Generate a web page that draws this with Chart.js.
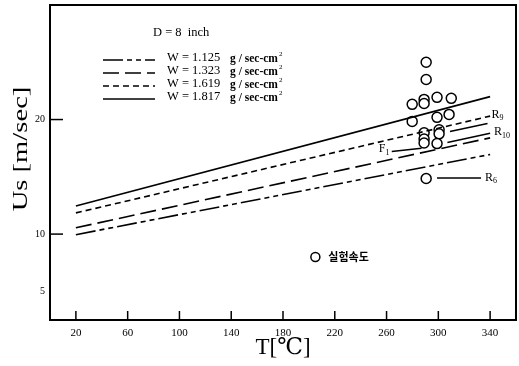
<!DOCTYPE html>
<html>
<head>
<meta charset="utf-8">
<script src="https://cdn.jsdelivr.net/npm/chart.js@4.4.1/dist/chart.umd.min.js"></script>
<style>
  html, body { margin: 0; padding: 0; background: #fff; }
  #wrap { width: 519px; height: 366px; }
</style>
</head>
<body>
<div id="wrap"><canvas id="c"></canvas></div>
<script>
// line end points (T in degC) and fitted Us values
const tEnds = [20, 340];
const us1817 = [12.45, 22.0];
const us1619 = [11.85, 20.3];
const us1323 = [10.55, 18.4];
const us1125 = [9.95, 16.95];

// experimental speeds (circles)
const expT  = [290.6, 290.6, 289, 289, 279.8, 299, 310, 279.8, 299, 308.3, 300.6, 300.6, 289, 289, 289, 299, 290.6];
const expUs = [25.0, 23.5, 21.76, 21.4, 21.33, 21.94, 21.85, 19.84, 20.19, 20.45, 19.1, 18.75, 18.84, 18.3, 17.95, 17.9, 14.85];

const xTicks = [20, 60, 100, 140, 180, 220, 260, 300, 340];
const yTicks = [5, 10, 20];

const legendRows = [
  { label: 'W = 1.125', dash: [20, 4, 5, 4, 5, 4] },
  { label: 'W = 1.323', dash: [16, 6] },
  { label: 'W = 1.619', dash: [6, 4] },
  { label: 'W = 1.817', dash: [] }
];

const SERIF = "'Liberation Serif', 'DejaVu Serif', serif";

function pts(xs, ys) {
  return xs.map((x, i) => ({ x: x, y: ys[i] }));
}

function lineSet(label, ys, dash) {
  return {
    label: label,
    data: pts(tEnds, ys),
    showLine: true,
    borderColor: '#000',
    borderWidth: 1.6,
    borderDash: dash,
    pointRadius: 0,
    fill: false
  };
}

// inside tick marks, frame, legend and annotations
const decor = {
  id: 'decor',
  afterDraw(chart) {
    const ctx = chart.ctx;
    const a = chart.chartArea;
    const xs = chart.scales.x, ys = chart.scales.y;
    ctx.save();
    ctx.strokeStyle = '#000';
    ctx.fillStyle = '#000';

    // frame
    ctx.lineWidth = 2;
    ctx.strokeRect(a.left, a.top, a.right - a.left, a.bottom - a.top);

    // x ticks pointing inward
    ctx.lineWidth = 1.5;
    xTicks.forEach(v => {
      const px = xs.getPixelForValue(v);
      ctx.beginPath();
      ctx.moveTo(px, a.bottom);
      ctx.lineTo(px, a.bottom - 9);
      ctx.stroke();
    });
    // y ticks pointing inward
    [10, 20].forEach(v => {
      const py = ys.getPixelForValue(v);
      ctx.beginPath();
      ctx.moveTo(a.left, py);
      ctx.lineTo(a.left + 13, py);
      ctx.stroke();
    });

    // legend block
    const lx0 = 103, lx1 = 155;
    ctx.font = '12.5px ' + SERIF;
    ctx.textBaseline = 'middle';
    ctx.fillText('D = 8  inch', 153, 33);
    const rowY = [58, 71, 84, 97];
    legendRows.forEach((r, i) => {
      const y = rowY[i];
      ctx.setLineDash(r.dash);
      ctx.lineWidth = 1.6;
      ctx.beginPath();
      ctx.moveTo(lx0, y + 2);
      ctx.lineTo(lx1, y + 2);
      ctx.stroke();
      ctx.setLineDash([]);
      ctx.font = '12.5px ' + SERIF;
      ctx.fillText(r.label, 167, y);
      ctx.font = 'bold 11.5px ' + SERIF;
      ctx.fillText('g / sec-cm', 230, y + 1);
      const w = ctx.measureText('g / sec-cm').width;
      ctx.font = '7px ' + SERIF;
      ctx.fillText('2', 231 + w, y - 4);
    });

    // labels at line ends
    function sub(main, s, x, y) {
      ctx.font = '12px ' + SERIF;
      ctx.fillText(main, x, y);
      const w = ctx.measureText(main).width;
      ctx.font = '8px ' + SERIF;
      ctx.fillText(s, x + w, y + 4);
    }
    function seg(t0, v0, t1, v1) {
      ctx.lineWidth = 1.5;
      ctx.beginPath();
      ctx.moveTo(xs.getPixelForValue(t0), ys.getPixelForValue(v0));
      ctx.lineTo(xs.getPixelForValue(t1), ys.getPixelForValue(v1));
      ctx.stroke();
    }
    sub('R', '9', xs.getPixelForValue(341), ys.getPixelForValue(20.45));
    sub('R', '10', xs.getPixelForValue(343), ys.getPixelForValue(18.9));
    seg(309, 18.95, 338, 19.65);
    seg(307, 18.0, 340, 18.8);
    sub('F', '1', xs.getPixelForValue(254), ys.getPixelForValue(17.45));
    seg(264, 17.2, 287, 17.5);
    seg(299, 14.9, 333, 14.9);
    sub('R', '6', xs.getPixelForValue(336), ys.getPixelForValue(14.95));

    // experiment legend
    const cx = xs.getPixelForValue(205), cy = ys.getPixelForValue(8.0);
    ctx.lineWidth = 1.5;
    ctx.beginPath();
    ctx.arc(cx, cy, 4.5, 0, Math.PI * 2);
    ctx.stroke();
    ctx.font = 'bold 11px "Noto Sans CJK KR", sans-serif';
    ctx.fillText('실험속도', cx + 13, cy);

    // y axis title (stretched like the scanned lettering)
    ctx.translate(21, 149);
    ctx.rotate(-Math.PI / 2);
    ctx.scale(1.3, 1);
    ctx.textAlign = 'center';
    ctx.font = '22px ' + SERIF;
    ctx.fillText('Us [m/sec]', 0, 0);
    ctx.restore();
  }
};

new Chart(document.getElementById('c'), {
  type: 'scatter',
  data: {
    datasets: [
      lineSet('W = 1.817', us1817, []),
      lineSet('W = 1.619', us1619, [6, 4]),
      lineSet('W = 1.323', us1323, [16, 6]),
      lineSet('W = 1.125', us1125, [20, 4, 5, 4, 5, 4]),
      {
        label: 'exp',
        data: pts(expT, expUs),
        pointStyle: 'circle',
        pointRadius: 5,
        pointBorderWidth: 1.5,
        pointBorderColor: '#000',
        pointBackgroundColor: '#fff'
      }
    ]
  },
  options: {
    animation: false,
    responsive: true,
    maintainAspectRatio: false,
    layout: { autoPadding: false, padding: { top: 5, right: 3, left: 0, bottom: 0 } },
    plugins: {
      legend: { display: false },
      tooltip: { enabled: false }
    },
    scales: {
      x: {
        type: 'linear',
        min: 0,
        max: 360,
        afterBuildTicks: s => { s.ticks = xTicks.map(v => ({ value: v })); },
        afterFit: s => { s.height = 46; s.paddingLeft = 0; s.paddingRight = 0; },
        grid: { display: false, drawTicks: false },
        border: { display: false },
        ticks: {
          color: '#000',
          padding: 7,
          maxRotation: 0,
          font: { family: SERIF, size: 11 }
        },
        title: {
          display: true,
          text: 'T[\u2103]',
          color: '#000',
          padding: { top: 0 },
          font: { family: SERIF, size: 23 }
        }
      },
      y: {
        type: 'linear',
        min: 2.5,
        max: 30,
        afterBuildTicks: s => { s.ticks = yTicks.map(v => ({ value: v })); },
        afterFit: s => { s.width = 50; s.paddingTop = 0; s.paddingBottom = 0; },
        grid: { display: false, drawTicks: false },
        border: { display: false },
        ticks: {
          color: '#000',
          padding: 5,
          font: { family: SERIF, size: 10 }
        }
      }
    }
  },
  plugins: [decor]
});
</script>
</body>
</html>
